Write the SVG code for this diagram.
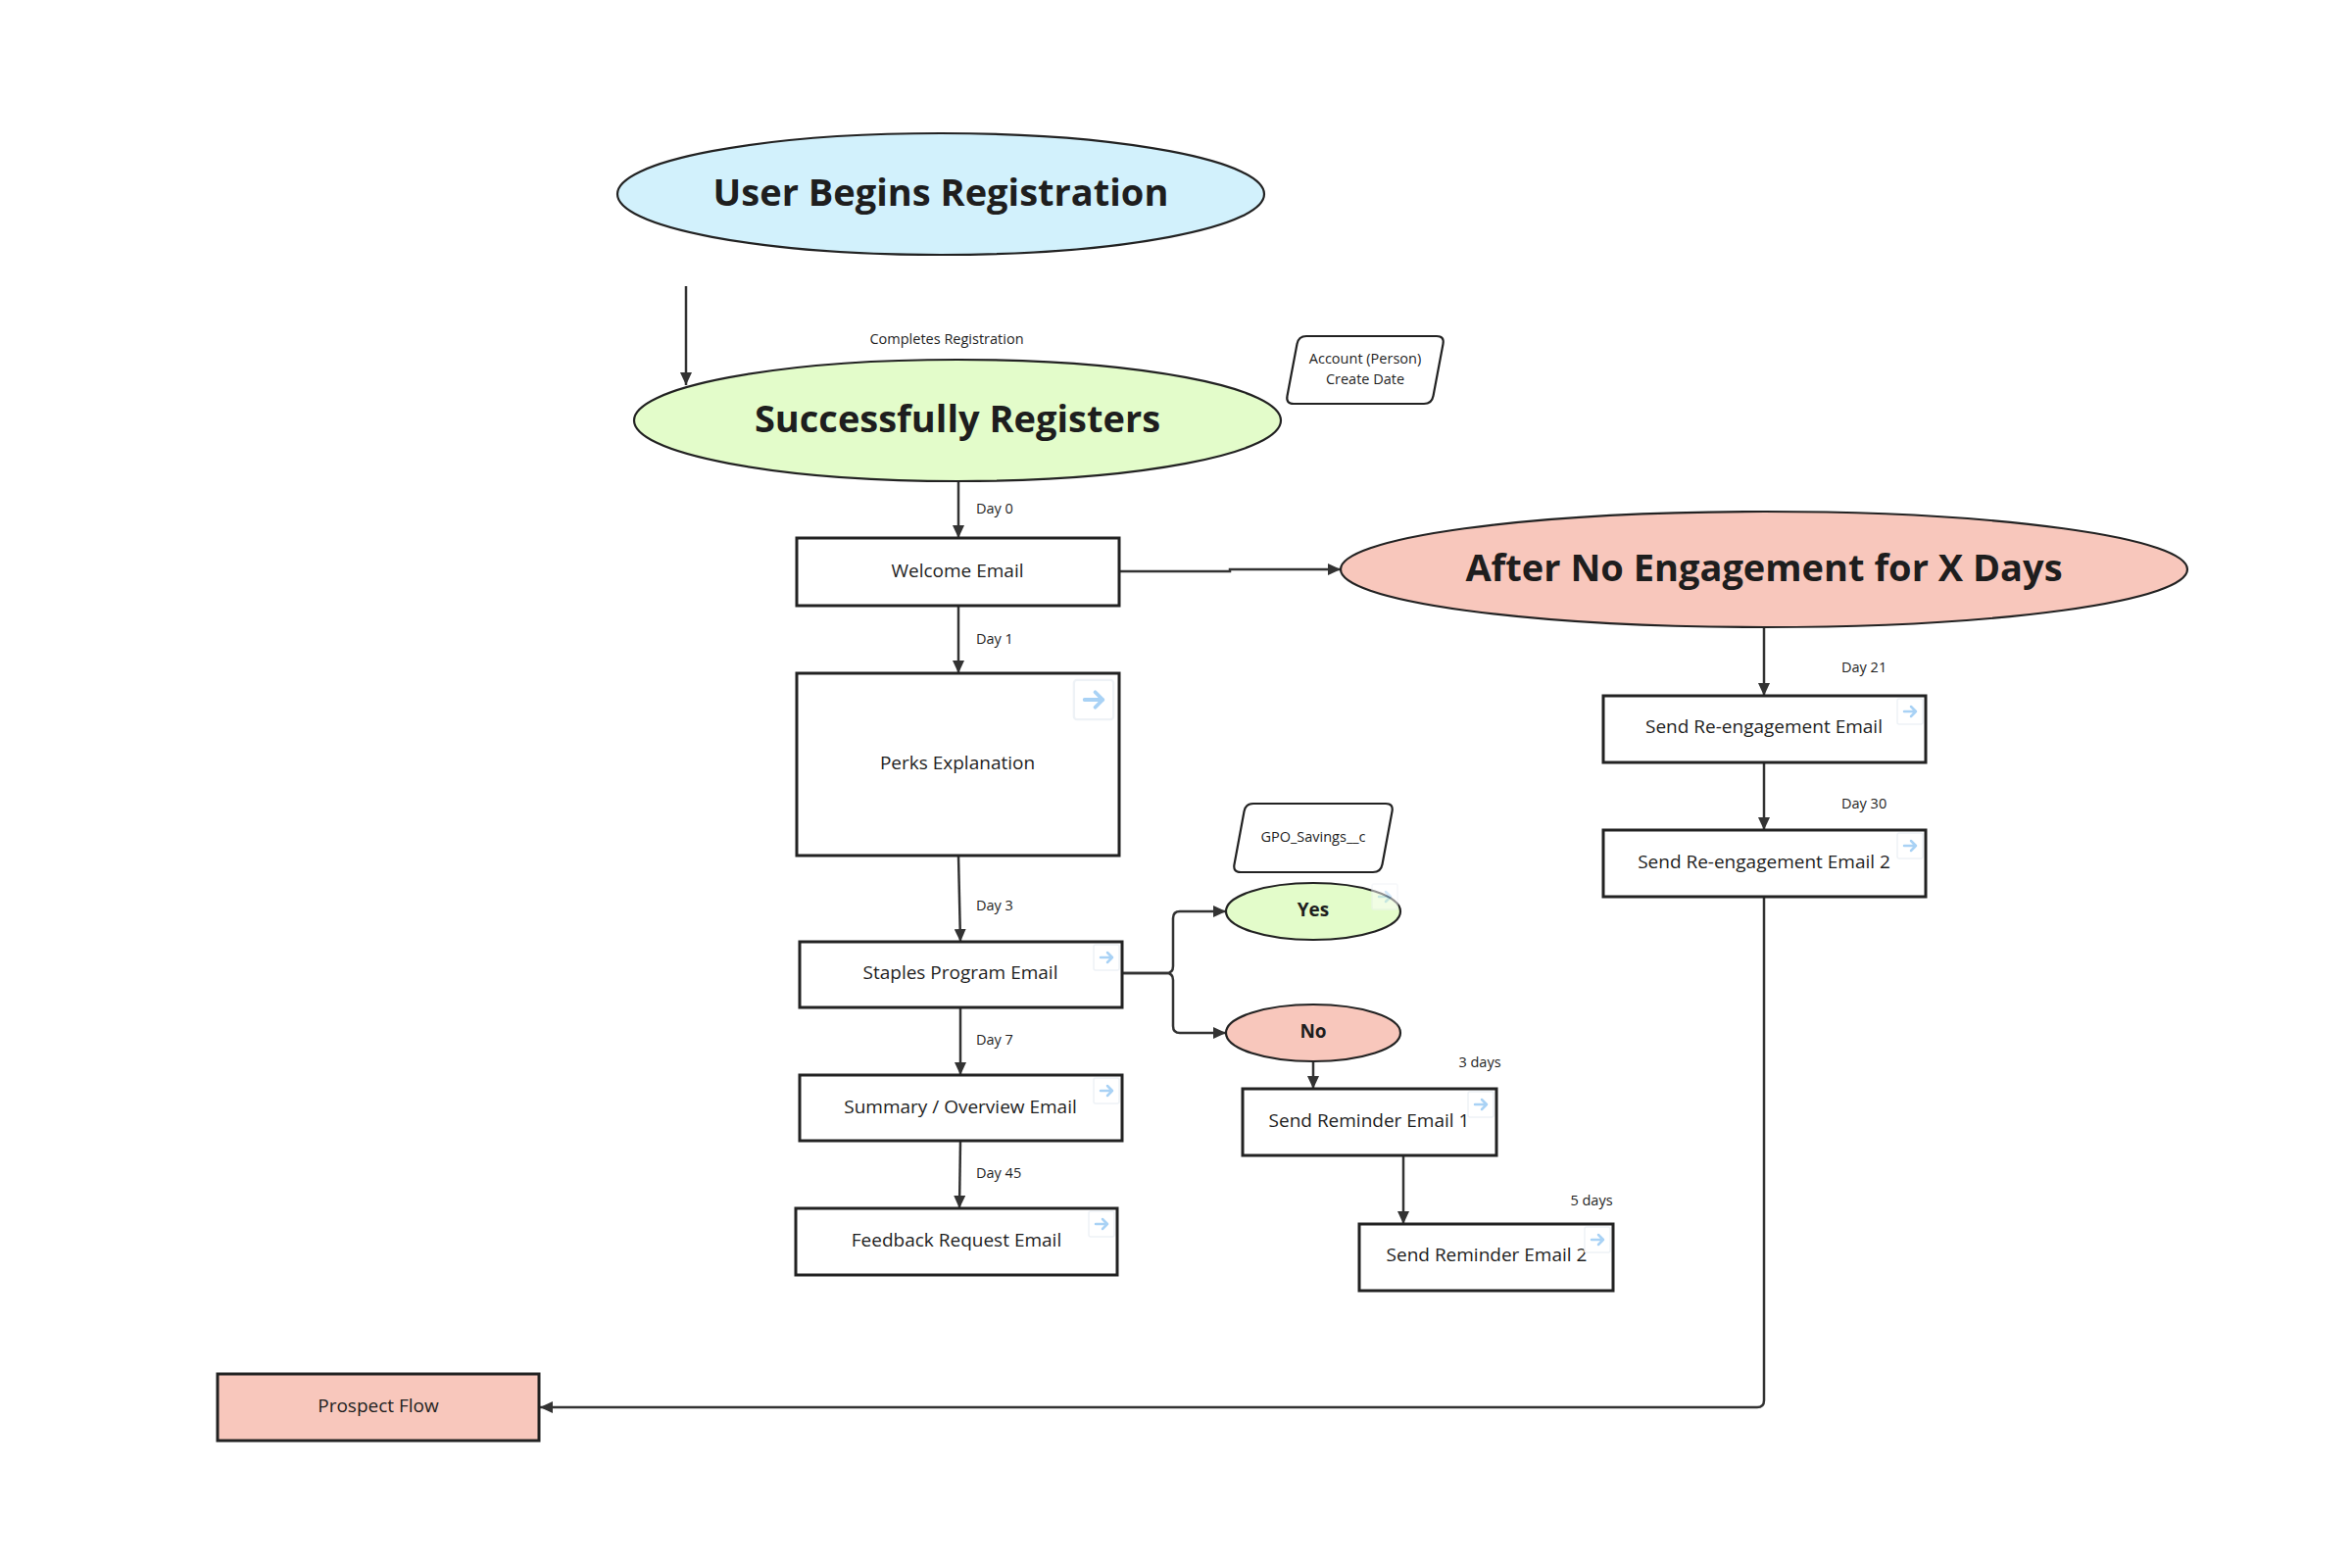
<svg xmlns="http://www.w3.org/2000/svg" xmlns:xlink="http://www.w3.org/1999/xlink" width="2400" height="1600" viewBox="0 0 2400 1600">
<defs>
<style>
.bg{fill:#ffffff}
.box{fill:#ffffff;stroke:#222222;stroke-width:3}
.pink{fill:#f8c7bc}
.ell{stroke:#222222;stroke-width:2.2}
.blue{fill:#d2f1fc}
.green{fill:#e3fcca}
.para{fill:#ffffff;stroke:#222222;stroke-width:2.2}
.con{fill:none;stroke:#333333;stroke-width:2.5}
.t{font-family:"Open Sans","Noto Sans","Liberation Sans",sans-serif;fill:#1e1e1e}
.lbl{font-size:19px;text-anchor:middle}
.big{font-size:38px;font-weight:700;text-anchor:middle}
.yn{font-size:19px;font-weight:700;text-anchor:middle}
.sm{font-size:14.5px}
.smc{font-size:14.5px;text-anchor:middle}
.ico{fill:#ffffff;stroke:#eef2f6;stroke-width:1.5}
.arr{fill:none;stroke:#a9d2f5;stroke-width:2.5;stroke-linecap:round;stroke-linejoin:round}
</style>
<marker id="ah" viewBox="0 0 13 12" refX="13" refY="6" markerWidth="13" markerHeight="12" markerUnits="userSpaceOnUse" orient="auto">
<path d="M0,0 L13,6 L0,12 z" fill="#333333"/>
</marker>
<g id="lnk">
<rect class="ico" x="-13" y="-13" width="26" height="26" rx="2"/>
<path class="arr" d="M-6,0 H6 M1,-5 L6,0 L1,5"/>
</g>
</defs>
<rect class="bg" x="0" y="0" width="2400" height="1600"/>

<g id="connectors">
<path class="con" d="M700,292 V393" marker-end="url(#ah)"/>
<path class="con" d="M978,491 V549" marker-end="url(#ah)"/>
<path class="con" d="M1142,583 H1255 V581 H1368" marker-end="url(#ah)"/>
<path class="con" d="M978,618 V687" marker-end="url(#ah)"/>
<path class="con" d="M978,873 L980,961" marker-end="url(#ah)"/>
<path class="con" d="M1145,993 H1190 Q1197,993 1197,986 V937 Q1197,930 1204,930 H1251" marker-end="url(#ah)"/>
<path class="con" d="M1145,993 H1190 Q1197,993 1197,1000 V1047 Q1197,1054 1204,1054 H1251" marker-end="url(#ah)"/>
<path class="con" d="M980,1028 V1097" marker-end="url(#ah)"/>
<path class="con" d="M980,1164 L979,1233" marker-end="url(#ah)"/>
<path class="con" d="M1340,1083 V1111" marker-end="url(#ah)"/>
<path class="con" d="M1432,1179 V1249" marker-end="url(#ah)"/>
<path class="con" d="M1800,640 V710" marker-end="url(#ah)"/>
<path class="con" d="M1800,778 V847" marker-end="url(#ah)"/>
<path class="con" d="M1800,915 V1429 Q1800,1436 1793,1436 H551" marker-end="url(#ah)"/>
<text class="t smc" x="966" y="351">Completes Registration</text>
<text class="t sm" x="996" y="524">Day 0</text>
<text class="t sm" x="996" y="657">Day 1</text>
<text class="t sm" x="996" y="929">Day 3</text>
<text class="t sm" x="996" y="1066">Day 7</text>
<text class="t sm" x="996" y="1202">Day 45</text>
<text class="t sm" x="1879" y="686">Day 21</text>
<text class="t sm" x="1879" y="825">Day 30</text>
<text class="t smc" x="1510" y="1089">3 days</text>
<text class="t smc" x="1624" y="1230">5 days</text>
</g>

<g id="user-begins">
<ellipse class="ell blue" cx="960" cy="198" rx="330" ry="62"/>
<text class="t big" x="960" y="210">User Begins Registration</text>
</g>

<g id="successfully-registers">
<ellipse class="ell green" cx="977" cy="429" rx="330" ry="62"/>
<text class="t big" x="977" y="441">Successfully Registers</text>
</g>

<g id="account-create-date">
<path class="para" d="M1333,343 H1466 Q1474,343 1472.5,351 L1462.5,404 Q1461,412 1453,412 H1320 Q1312,412 1313.5,404 L1323.5,351 Q1325,343 1333,343 Z"/>
<text class="t smc" x="1393" y="371">Account (Person)</text>
<text class="t smc" x="1393" y="392">Create Date</text>
</g>

<g id="welcome-email">
<rect class="box" x="813" y="549" width="329" height="69"/>
<text class="t lbl" x="977" y="589">Welcome Email</text>
</g>

<g id="after-no-engagement">
<ellipse class="ell pink" cx="1800" cy="581" rx="432" ry="59"/>
<text class="t big" x="1800" y="593">After No Engagement for X Days</text>
</g>

<g id="perks-explanation">
<rect class="box" x="813" y="687" width="329" height="186"/>
<text class="t lbl" x="977" y="785">Perks Explanation</text>
<use xlink:href="#lnk" transform="translate(1116,714) scale(1.55)"/>
</g>

<g id="gpo-savings">
<path class="para" d="M1279,820 H1414 Q1422,820 1420.5,828 L1410.5,882 Q1409,890 1401,890 H1266 Q1258,890 1259.5,882 L1269.5,828 Q1271,820 1279,820 Z"/>
<text class="t smc" x="1340" y="859">GPO_Savings__c</text>
</g>

<g id="yes">
<ellipse class="ell green" cx="1340" cy="930" rx="89" ry="29"/>
<text class="t yn" x="1340" y="935">Yes</text>
<use xlink:href="#lnk" transform="translate(1413,915)" opacity="0.5"/>
</g>

<g id="no">
<ellipse class="ell pink" cx="1340" cy="1054" rx="89" ry="29"/>
<text class="t yn" x="1340" y="1059">No</text>
</g>

<g id="staples-program-email">
<rect class="box" x="816" y="961" width="329" height="67"/>
<text class="t lbl" x="980" y="999">Staples Program Email</text>
<use xlink:href="#lnk" transform="translate(1129,977)"/>
</g>

<g id="summary-overview-email">
<rect class="box" x="816" y="1097" width="329" height="67"/>
<text class="t lbl" x="980" y="1136">Summary / Overview Email</text>
<use xlink:href="#lnk" transform="translate(1129,1113)"/>
</g>

<g id="feedback-request-email">
<rect class="box" x="812" y="1233" width="328" height="68"/>
<text class="t lbl" x="976" y="1272">Feedback Request Email</text>
<use xlink:href="#lnk" transform="translate(1124,1249)"/>
</g>

<g id="send-reminder-email-1">
<rect class="box" x="1268" y="1111" width="259" height="68"/>
<text class="t lbl" x="1397" y="1150">Send Reminder Email 1</text>
<use xlink:href="#lnk" transform="translate(1511,1127)"/>
</g>

<g id="send-reminder-email-2">
<rect class="box" x="1387" y="1249" width="259" height="68"/>
<text class="t lbl" x="1517" y="1287">Send Reminder Email 2</text>
<use xlink:href="#lnk" transform="translate(1630,1265)"/>
</g>

<g id="send-reengagement-email">
<rect class="box" x="1636" y="710" width="329" height="68"/>
<text class="t lbl" x="1800" y="748">Send Re-engagement Email</text>
<use xlink:href="#lnk" transform="translate(1949,726)"/>
</g>

<g id="send-reengagement-email-2">
<rect class="box" x="1636" y="847" width="329" height="68"/>
<text class="t lbl" x="1800" y="886">Send Re-engagement Email 2</text>
<use xlink:href="#lnk" transform="translate(1949,863)"/>
</g>

<g id="prospect-flow">
<rect class="box pink" x="222" y="1402" width="328" height="68"/>
<text class="t lbl" x="386" y="1441">Prospect Flow</text>
</g>
</svg>
